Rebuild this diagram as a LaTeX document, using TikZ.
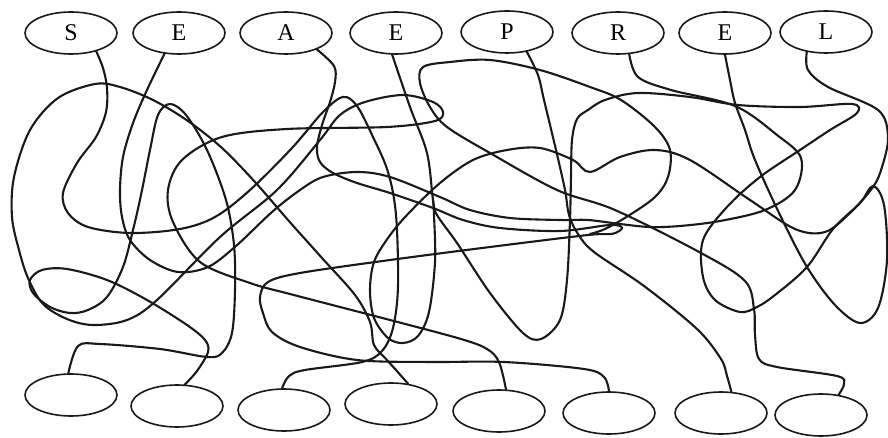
\documentclass[tikz,border=0pt]{standalone}
\usepackage{fontspec}
\setmainfont{Liberation Serif}
\usetikzlibrary{shapes.geometric}
\begin{document}
\begin{tikzpicture}[x=1pt,y=-1pt,
  box/.style={draw=black!90, line width=1.6pt, ellipse, minimum width=92pt, minimum height=42pt, inner sep=0pt, font=\fontsize{24}{26}\selectfont},
  wire/.style={draw=black!90, line width=2.1pt, line cap=round, line join=round}]
\useasboundingbox (0,0) rectangle (888,438);
% top row
\node[box] (S)  at (71,33)  {S};
\node[box] (E1) at (179,33) {E};
\node[box] (A)  at (286,33) {A};
\node[box] (E2) at (396,33) {E};
\node[box] (P)  at (507,32) {P};
\node[box] (R)  at (618,33) {R};
\node[box] (E3) at (725,33) {E};
\node[box] (L)  at (826,32) {L};
% bottom row
\node[box] (B1) at (71,395)  {};
\node[box] (B2) at (177,406) {};
\node[box] (B3) at (284,410) {};
\node[box] (B4) at (391,404) {};
\node[box] (B5) at (499,411) {};
\node[box] (B6) at (609,413) {};
\node[box] (B7) at (721,413) {};
\node[box] (B8) at (821,415) {};
\coordinate (m6) at (590,234);
\coordinate (m9) at (433,200);
% S -> B3
\draw[wire] plot[smooth, tension=0.55] coordinates {(S.-36) (103,68) (107,88) (106,112) (96,137) (77,163) (63,193) (68,213) (88,227) (130,233) (180,229) (215,217) (250,190) (292,148) (323,112) (343,97) (357,106) (373,137) (388,172) (396,215) (398,286) (393,328) (382,351) (362,362) (305,370) (289,376) (B3.95)};
% A -> B6
\draw[wire] plot[smooth, tension=0.55] coordinates {(A.-28) (334,66) (335,82) (330,102) (322,125) (317,147) (320,162) (333,173) (357,183) (390,193) (433,208) (463,220) (500,228) (560,231) (610,225) (622,228) (612,234) (588,235) (490,247) (390,260) (300,273) (268,282) (260,297) (263,313) (272,332) (300,347) (357,360) (430,362) (504,362) (584,369) (604,377) (B6.north)};
% B4 -> B5
\draw[wire] plot[smooth, tension=0.55] coordinates {(B4.50) (396,370) (386,359) (374,345) (370,322) (355,295) (322,258) (288,220) (255,182) (222,148) (188,121) (153,100) (120,87) (95,84) (58,98) (30,130) (14,177) (12,217) (19,250) (28,278) (43,304) (67,319) (93,325) (127,320) (157,300) (220,237) (277,190) (320,140) (340,115) (365,102) (403,95) (433,102) (443,112) (435,121) (387,127) (287,129) (222,137) (182,160) (168,190) (173,222) (200,262) (250,283) (290,294) (390,320) (461,339) (487,349) (499,362) (B5.72)};
% B2 -> B1
\draw[wire] plot[smooth, tension=0.55] coordinates {(B2.70) (197,371) (208,352) (205,340) (187,325) (147,300) (107,280) (67,269) (42,270) (30,280) (33,293) (50,307) (70,313) (88,310) (107,297) (123,267) (133,230) (141,195) (150,150) (158,115) (170,104) (186,115) (207,150) (226,200) (234,245) (235,290) (232,333) (222,353) (207,357) (160,349) (100,344) (78,346) (B1.97)};
% P -> B7
\draw[wire] plot[smooth, tension=0.55] coordinates {(P.-45) (538,75) (544,100) (556,150) (565,190) (569,215) (578,234) (594,252) (644,286) (697,329) (721,359) (727,376) (B7.64)};
% B8 -> merge
\draw[wire] plot[smooth, tension=0.55] coordinates {(B8.49) (844,384) (837,376) (777,367) (759,359) (755,335) (754,309) (745,281) (701,253) (615,210) (557,190) (490,153) (447,127) (430,107) (420,83) (423,67) (450,62) (490,60) (540,70) (590,87) (621,100) (655,127) (670,150) (668,177) (655,197) (628,216) (605,229) (m6)};
% E3 -> E2
\draw[wire] plot[smooth, tension=0.55] coordinates {(E3.south) (730,80) (735,103) (745,130) (755,160) (780,215) (807,267) (835,305) (860,323) (878,308) (887,260) (884,205) (873,186) (860,203) (833,229) (807,267) (775,295) (757,307) (740,312) (715,300) (703,277) (703,240) (727,207) (760,177) (800,150) (830,130) (857,113) (852,104) (800,107) (738,105) (690,97) (638,93) (605,100) (588,110) (577,119) (572,140) (571,176) (570,220) (567,280) (560,320) (541,339) (523,333) (490,293) (457,243) (437,215) (433,200) (427,153) (410,107) (E2.-100)};
% R -> E1
\draw[wire] plot[smooth, tension=0.55] coordinates {(R.-62) (638,77) (671,90) (735,106) (777,135) (801,158) (795,190) (765,210) (720,221) (680,226) (650,227) (620,224) (588,220) (560,220) (510,218) (470,210) (440,197) (390,177) (357,172) (323,177) (300,190) (272,212) (236,246) (208,267) (178,272) (150,260) (130,240) (122,217) (120,190) (123,157) (133,123) (147,90) (E1.-125)};
% L -> merge
\draw[wire] plot[smooth, tension=0.55] coordinates {(L.-134) (808,70) (828,87) (878,110) (888,137) (882,167) (873,187) (850,213) (825,232) (795,229) (750,200) (690,160) (655,150) (620,157) (590,172) (573,160) (540,148) (507,150) (473,160) (440,183) (407,215) (388,238) (374,262) (370,290) (374,318) (388,338) (403,343) (418,336) (429,312) (435,262) (434,215) (m9)};
\end{tikzpicture}
\end{document}
